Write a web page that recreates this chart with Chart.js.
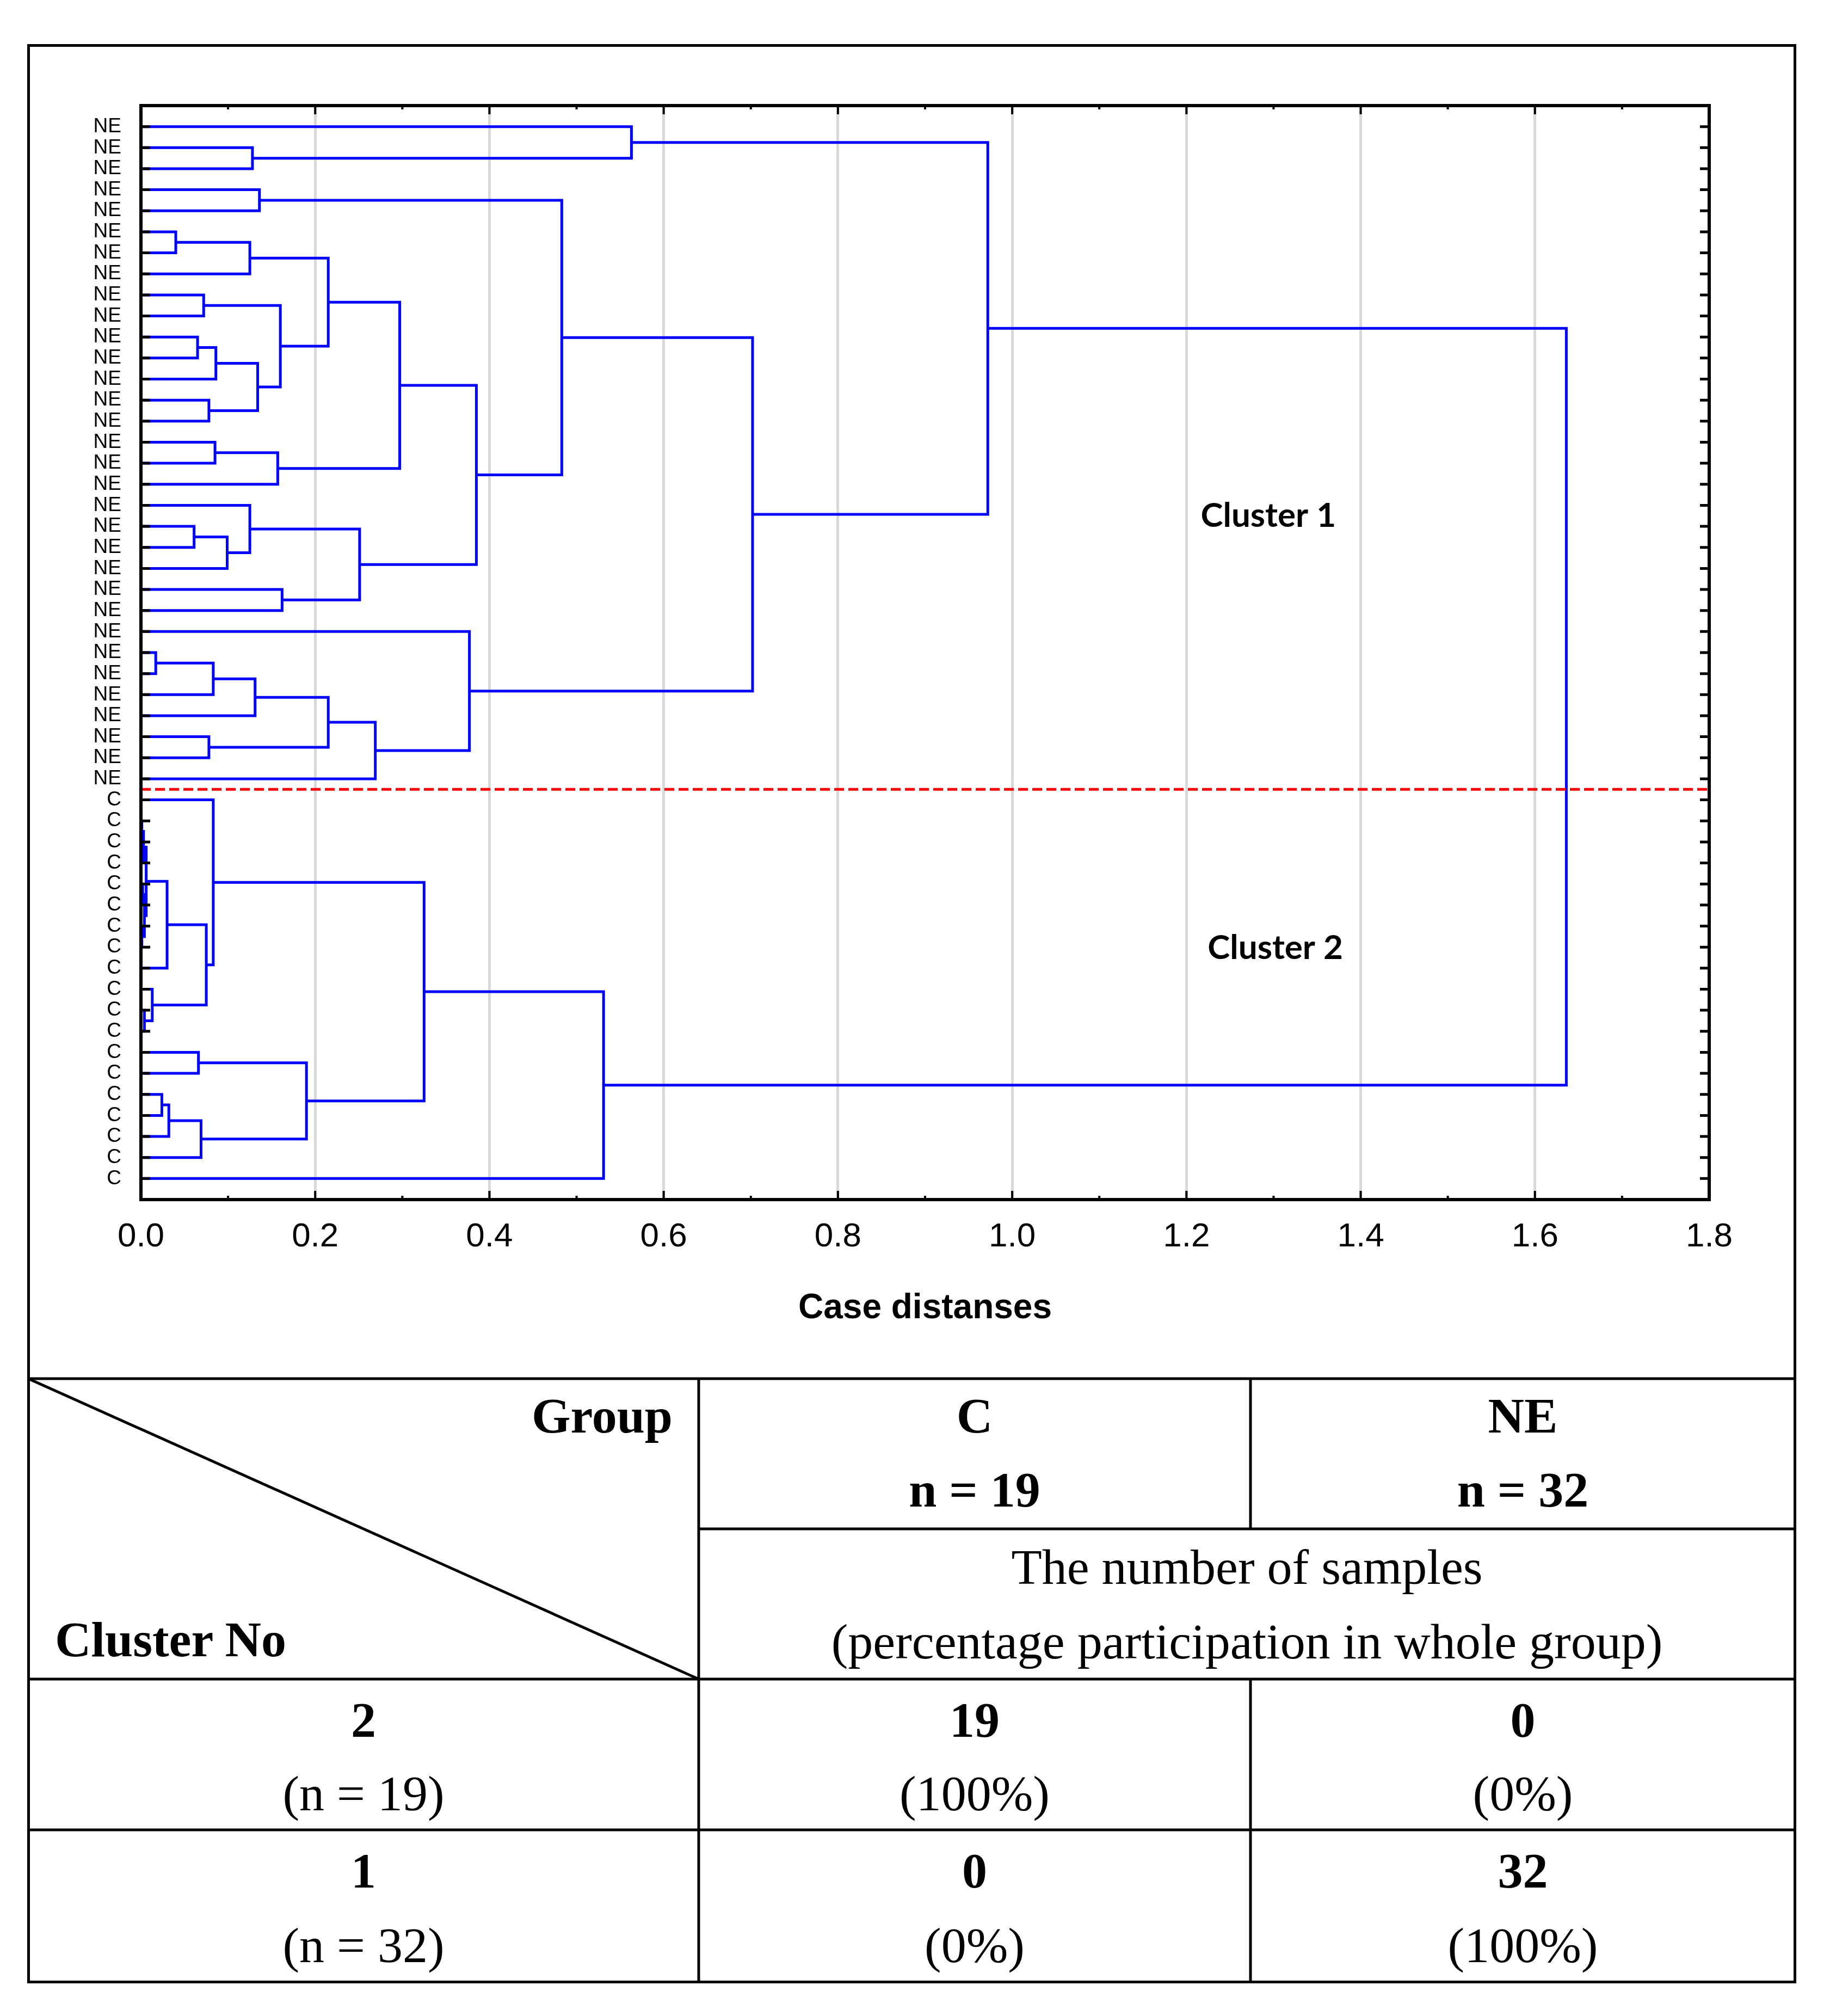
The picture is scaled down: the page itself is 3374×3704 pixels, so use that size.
<!DOCTYPE html>
<html lang="en">
<head>
<meta charset="utf-8">
<title>Dendrogram of case distances</title>
<script src="https://cdn.jsdelivr.net/npm/chart.js@4.4.1/dist/chart.umd.min.js"></script>
<style>
  html, body { margin: 0; padding: 0; background: #fff; }
  .page { position: relative; width: 3374px; height: 3704px; background: #fff; overflow: hidden; }
  .frame { position: absolute; left: 50px; top: 81px; width: 3251px; height: 3563px; border: 5px solid #000; box-sizing: border-box; }
  #dendrogram { position: absolute; left: 57px; top: 88px; }
  #groupTable { position: absolute; left: 0; top: 0; }
  #groupTable line { stroke: #000; stroke-width: 5; }
  #groupTable text { font-family: "Palatino Linotype", "Book Antiqua", "Liberation Serif", serif; font-size: 92px; fill: #000; }
  #groupTable text.b { font-weight: bold; }
</style>
</head>
<body>
<div class="page">
  <div class="frame"></div>
  <canvas id="dendrogram" width="3237" height="2440" style="width:3237px;height:2440px;"></canvas>
  <svg id="groupTable" width="3374" height="3704" xmlns="http://www.w3.org/2000/svg"></svg>
</div>
<script>
// leaves from top to bottom, in tree order
const leafLabels = [
  'NE', 'NE', 'NE', 'NE', 'NE', 'NE', 'NE', 'NE', 'NE', 'NE', 'NE', 'NE', 'NE', 'NE', 'NE', 'NE',
  'NE', 'NE', 'NE', 'NE', 'NE', 'NE', 'NE', 'NE', 'NE', 'NE', 'NE', 'NE', 'NE', 'NE', 'NE', 'NE',
  'C', 'C', 'C', 'C', 'C', 'C', 'C', 'C', 'C', 'C', 'C', 'C', 'C', 'C', 'C', 'C', 'C', 'C', 'C'
];

// linkage rows: ids below leafLabels.length are leaves, the rest point to earlier rows
const mergeLeft = [1, 0, 3, 5, 54, 8, 10, 57, 13, 58, 56, 55, 15, 63, 62, 19, 66, 18, 22, 68, 65, 53, 25, 73, 74,
  29, 75, 77, 24, 72, 52, 33, 82, 36, 38, 84, 83, 87, 42, 41, 88, 32, 44, 46, 94, 95, 93, 92, 98, 81];
const mergeRight = [2, 51, 4, 6, 7, 9, 11, 12, 14, 59, 60, 61, 16, 17, 64, 20, 21, 67, 23, 69, 70, 71, 26, 27, 28,
  30, 76, 31, 78, 79, 80, 34, 35, 37, 39, 85, 86, 40, 43, 89, 90, 91, 45, 47, 48, 49, 96, 97, 50, 99];
const mergeDistance = [0.128, 0.563, 0.136, 0.040, 0.125, 0.072, 0.065, 0.086, 0.078, 0.134, 0.160, 0.215, 0.085,
  0.157, 0.297, 0.061, 0.099, 0.125, 0.162, 0.251, 0.385, 0.483, 0.017, 0.083, 0.131, 0.078, 0.215, 0.269, 0.377,
  0.702, 0.972, 0.001, 0.003, 0.002, 0.001, 0.004, 0.006, 0.030, 0.004, 0.013, 0.075, 0.083, 0.066, 0.024, 0.032,
  0.069, 0.190, 0.325, 0.531, 1.636];

const distanceTicks = [0, 0.2, 0.4, 0.6, 0.8, 1.0, 1.2, 1.4, 1.6, 1.8];
const distanceTickLabels = ['0.0', '0.2', '0.4', '0.6', '0.8', '1.0', '1.2', '1.4', '1.6', '1.8'];
const distanceMinorTicks = [0.1, 0.3, 0.5, 0.7, 0.9, 1.1, 1.3, 1.5, 1.7];
const distanceAxisTitle = 'Case distanses';

// last NE leaf before the cut line
const lastLeafOfCluster1 = 31;
const clusterNames = ['Cluster 1', 'Cluster 2'];
const clusterLabelDistance = [1.294, 1.302];
const clusterLabelLeaf = [18.5, 39.05];

// table under the tree
const groupNames = ['C', 'NE'];
const groupSizes = [19, 32];
const clusterNumbers = [2, 1];
const clusterSizes = [19, 32];
const samplesInC = [19, 0];
const samplesInNE = [0, 32];
const percentInC = [100, 0];
const percentInNE = [0, 100];

(function () {
  'use strict';

  const leafCount = leafLabels.length;
  const BLUE = '#0000ff';

  function nodePosition(id) {
    if (id < leafCount) return id;
    const k = id - leafCount;
    return (nodePosition(mergeLeft[k]) + nodePosition(mergeRight[k])) / 2;
  }

  function nodeHeight(id) {
    return id < leafCount ? 0 : mergeDistance[id - leafCount];
  }

  function buildDatasets() {
    const links = mergeDistance.map((height, k) => {
      const a = mergeLeft[k];
      const b = mergeRight[k];
      const ya = nodePosition(a);
      const yb = nodePosition(b);
      return {
        data: [
          { x: nodeHeight(a), y: ya },
          { x: height, y: ya },
          { x: height, y: yb },
          { x: nodeHeight(b), y: yb }
        ],
        showLine: true,
        borderColor: BLUE,
        borderWidth: 5,
        borderJoinStyle: 'miter',
        pointRadius: 0,
        fill: false,
        order: 2
      };
    });
    const cut = lastLeafOfCluster1 + 0.5;
    links.push({
      data: [{ x: distanceTicks[0], y: cut }, { x: distanceTicks[distanceTicks.length - 1], y: cut }],
      showLine: true,
      borderColor: '#ff0000',
      borderWidth: 5,
      borderDash: [18, 8],
      pointRadius: 0,
      fill: false,
      order: 1
    });
    return links;
  }

  const frameAndLabels = {
    id: 'frameAndLabels',
    afterDatasetsDraw(chart) {
      const { ctx, chartArea: area, scales: { x, y } } = chart;
      ctx.save();
      ctx.strokeStyle = '#000';
      ctx.lineCap = 'butt';

      ctx.lineWidth = 5;
      leafLabels.forEach((_, i) => {
        const py = y.getPixelForValue(i);
        ctx.beginPath();
        ctx.moveTo(area.left, py);
        ctx.lineTo(area.left + 17, py);
        ctx.moveTo(area.right - 17, py);
        ctx.lineTo(area.right, py);
        ctx.stroke();
      });

      ctx.lineWidth = 4;
      const mark = (value, len) => {
        const px = x.getPixelForValue(value);
        ctx.beginPath();
        ctx.moveTo(px, area.top);
        ctx.lineTo(px, area.top + len);
        ctx.moveTo(px, area.bottom);
        ctx.lineTo(px, area.bottom - len);
        ctx.stroke();
      };
      distanceTicks.forEach((v) => mark(v, 16));
      distanceMinorTicks.forEach((v) => mark(v, 7));

      ctx.lineWidth = 6;
      ctx.strokeRect(area.left, area.top, area.right - area.left, area.bottom - area.top);

      ctx.fillStyle = '#000';
      ctx.textAlign = 'center';
      ctx.textBaseline = 'alphabetic';
      ctx.font = 'bold 64px "Liberation Sans", Arial, sans-serif';
      ctx.fillText(distanceAxisTitle, (area.left + area.right) / 2, area.bottom + 218);

      ctx.textBaseline = 'middle';
      ctx.font = 'bold 62px Lato, "Open Sans", sans-serif';
      clusterNames.forEach((name, i) => {
        ctx.fillText(name, x.getPixelForValue(clusterLabelDistance[i]), y.getPixelForValue(clusterLabelLeaf[i]));
      });
      ctx.restore();
    }
  };

  function renderDendrogram() {
    Chart.defaults.font.family = '"Liberation Sans", Arial, sans-serif';
    new Chart(document.getElementById('dendrogram'), {
      type: 'scatter',
      data: { datasets: buildDatasets() },
      options: {
        responsive: false,
        devicePixelRatio: 1,
        animation: false,
        events: [],
        layout: { padding: { top: 106, right: 153, left: 0, bottom: 0 } },
        plugins: { legend: { display: false }, tooltip: { enabled: false } },
        scales: {
          x: {
            type: 'linear',
            position: 'bottom',
            min: 0,
            max: 1.8,
            afterBuildTicks: (axis) => { axis.ticks = distanceTicks.map((value) => ({ value })); },
            afterFit: (axis) => { axis.height = 324; },
            ticks: {
              callback: (value, index) => distanceTickLabels[index],
              font: { size: 62 },
              color: '#000',
              padding: 32,
              maxRotation: 0,
              autoSkip: false
            },
            grid: {
              color: (c) => (c.tick && (c.tick.value <= 0 || c.tick.value >= 1.8)) ? 'rgba(0,0,0,0)' : '#d9d9d9',
              lineWidth: 5,
              drawTicks: false
            },
            border: { display: false }
          },
          y: {
            type: 'linear',
            reverse: true,
            min: -1,
            max: 51,
            afterBuildTicks: (axis) => { axis.ticks = leafLabels.map((_, i) => ({ value: i })); },
            afterFit: (axis) => { axis.width = 202; },
            ticks: {
              callback: (value, index) => leafLabels[index],
              font: { size: 37 },
              color: '#000',
              padding: 36,
              autoSkip: false
            },
            grid: { display: false, drawTicks: false },
            border: { display: false }
          }
        }
      },
      plugins: [frameAndLabels]
    });
  }

  function renderTable() {
    const colX = [52, 1284, 2298, 3299];
    const rowY = [2533, 2809, 3085, 3362];
    const line = (x1, y1, x2, y2) => `<line x1="${x1}" y1="${y1}" x2="${x2}" y2="${y2}"/>`;
    const text = (str, x, y, cls, anchor) =>
      `<text x="${x}" y="${y}" class="${cls || ''}" text-anchor="${anchor || 'middle'}">${str}</text>`;
    const mid = (i) => (colX[i] + colX[i + 1]) / 2;

    let out = '';
    out += line(colX[0], rowY[0], colX[3], rowY[0]);
    out += line(colX[1], rowY[1], colX[3], rowY[1]);
    out += line(colX[0], rowY[2], colX[3], rowY[2]);
    out += line(colX[0], rowY[3], colX[3], rowY[3]);
    out += line(colX[1], rowY[0], colX[1], 3644);
    out += line(colX[2], rowY[0], colX[2], rowY[1]);
    out += line(colX[2], rowY[2], colX[2], 3644);
    out += line(colX[0], rowY[0], colX[1], rowY[2]);

    out += text('Group', 1236, 2632, 'b', 'end');
    out += text('Cluster No', 101, 3043, 'b', 'start');
    groupNames.forEach((name, g) => {
      out += text(name, mid(g + 1), 2632, 'b');
      out += text(`n = ${groupSizes[g]}`, mid(g + 1), 2768, 'b');
    });
    out += text('The number of samples', (colX[1] + colX[3]) / 2, 2910);
    out += text('(percentage participation in whole group)', (colX[1] + colX[3]) / 2, 3047);

    const firstLine = [3191, 3468];
    const secondLine = [3326, 3605];
    clusterNumbers.forEach((num, r) => {
      out += text(String(num), mid(0), firstLine[r], 'b');
      out += text(`(n = ${clusterSizes[r]})`, mid(0), secondLine[r]);
      out += text(String(samplesInC[r]), mid(1), firstLine[r], 'b');
      out += text(`(${percentInC[r]}%)`, mid(1), secondLine[r]);
      out += text(String(samplesInNE[r]), mid(2), firstLine[r], 'b');
      out += text(`(${percentInNE[r]}%)`, mid(2), secondLine[r]);
    });
    document.getElementById('groupTable').innerHTML = out;
  }

  renderDendrogram();
  renderTable();
})();
</script>
</body>
</html>
